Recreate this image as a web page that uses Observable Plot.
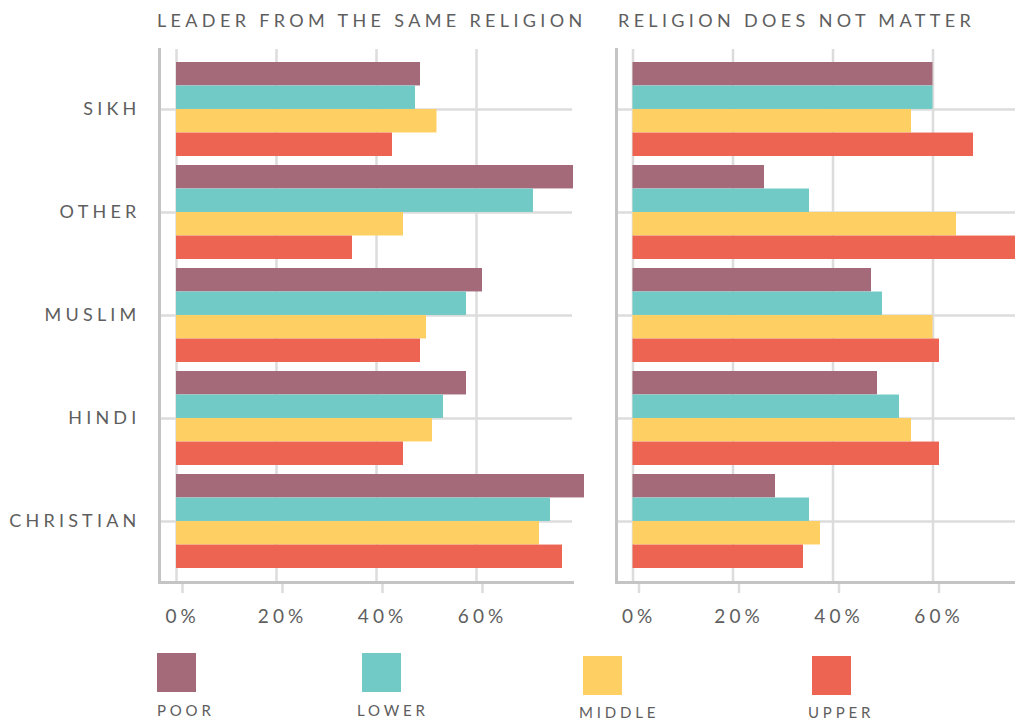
<!DOCTYPE html>
<html>
<head>
<meta charset="utf-8">
<script src="https://cdn.jsdelivr.net/npm/d3@7"></script>
<script src="https://cdn.jsdelivr.net/npm/@observablehq/plot@0.6"></script>
<style>
  html, body { margin: 0; padding: 0; background: #fff; overflow: hidden; }
  #root { position: relative; width: 1015px; height: 722px; font-family: Lato, "Open Sans", sans-serif; color: #5e5e5e; }
  .title { position: absolute; top: 11px; font-size: 18px; line-height: 18px; letter-spacing: 4.35px; white-space: nowrap; }
  .panel { position: absolute; top: 0; }
  .sw { position: absolute; width: 39px; height: 39px; }
  .lab { position: absolute; font-size: 15px; line-height: 15px; letter-spacing: 3.8px; white-space: nowrap; }
  .panel svg g[aria-label="y-axis tick label"] text { letter-spacing: 4.2px; }
  .panel svg g[aria-label="x-axis tick label"] text { letter-spacing: 4px; }
</style>
</head>
<body>
<div id="root">
  <div class="title" style="left:157px">LEADER FROM THE SAME RELIGION</div>
  <div class="title" style="left:618px">RELIGION DOES NOT MATTER</div>
  <div id="left" class="panel" style="left:0px;width:590px"></div>
  <div id="right" class="panel" style="left:590px;width:425px"></div>
  <div id="legend"></div>
</div>
<script>
// ---- data ----
const religions = ["SIKH", "OTHER", "MUSLIM", "HINDI", "CHRISTIAN"];
const classes = ["POOR", "LOWER", "MIDDLE", "UPPER"];
const classColors = ["#a56a7a", "#72cac6", "#fed063", "#ed6552"];
const xTicks = [0, 20, 40, 60];

// "Leader from the same religion" (% by religion, top to bottom)
const samePoor   = [48.8, 79.4, 61.2, 58.0, 81.6];
const sameLower  = [47.8, 71.4, 58.0, 53.4, 74.8];
const sameMiddle = [52.1, 45.4, 50.0, 51.2, 72.6];
const sameUpper  = [43.2, 35.2, 48.8, 45.4, 77.2];

// "Religion does not matter"
const notPoor   = [60.0, 26.3, 47.7, 48.9, 28.5];
const notLower  = [60.0, 35.3, 49.9, 53.3, 35.3];
const notMiddle = [55.7, 64.7, 60.0, 55.7, 37.5];
const notUpper  = [68.1, 77.0, 61.3, 61.3, 34.1];

// ---- layout ----
const H = 630, MT = 49, MB = 48;
const PAD_IN = 0.087, PAD_OUT = 0.13;
const step = (H - MT - MB) / (religions.length - PAD_IN + 2 * PAD_OUT);
const bw = step * (1 - PAD_IN);

function rowsOf(series) {
  return religions.flatMap((r, j) => classes.map((c, i) => ({religion: r, cls: c, value: series[i][j]})));
}

function panel(series, {width, marginLeft, marginRight, domain, showY}) {
  const rows = rowsOf(series);
  const marks = [
    Plot.gridX({ticks: xTicks, stroke: "#dcdcdc", strokeOpacity: 1, strokeWidth: 2.5}),
    Plot.gridY({stroke: "#dcdcdc", strokeOpacity: 1, strokeWidth: 2.5}),
    Plot.axisX({ticks: xTicks, tickFormat: d => d + "%", tickSize: 11, tickPadding: 16, stroke: "#dcdcdc", strokeWidth: 2.5, strokeOpacity: 1, fontSize: 19, dx: 6, label: null, fill: "#5e5e5e"}),
    ...classes.map((c, i) => Plot.barX(rows.filter(d => d.cls === c), {
      x: "value", y: "religion", fill: "cls",
      insetTop: i * bw / 4, insetBottom: (classes.length - 1 - i) * bw / 4
    })),
    Plot.frame({anchor: "left", stroke: "#c4c4c4", strokeWidth: 3}),
    Plot.frame({anchor: "bottom", stroke: "#c4c4c4", strokeWidth: 3})
  ];
  if (showY) marks.push(Plot.axisY({tickSize: 0, tickPadding: 19, fontSize: 18, label: null, fill: "#5e5e5e"}));
  return Plot.plot({
    width, height: H,
    marginTop: MT, marginBottom: MB, marginLeft, marginRight,
    style: {fontFamily: "Lato, 'Open Sans', sans-serif", color: "#5e5e5e", background: "transparent", overflow: "visible", maxWidth: "none"},
    x: {domain, axis: null},
    y: {domain: religions, paddingInner: PAD_IN, paddingOuter: PAD_OUT, axis: null},
    color: {domain: classes, range: classColors},
    marks
  });
}

document.getElementById("left").append(panel([samePoor, sameLower, sameMiddle, sameUpper],
  {width: 590, marginLeft: 159, marginRight: 18, domain: [-3.4, 79.2], showY: true}));
document.getElementById("right").append(panel([notPoor, notLower, notMiddle, notUpper],
  {width: 425, marginLeft: 26, marginRight: 0, domain: [-3.3, 76.5], showY: false}));

// ---- legend ----
const legendPos = [
  {sx: 157, sy: 653, lx: 157, ly: 703},
  {sx: 362, sy: 653, lx: 357, ly: 703},
  {sx: 583, sy: 656, lx: 579, ly: 705},
  {sx: 812, sy: 656, lx: 808, ly: 705}
];
const legend = document.getElementById("legend");
classes.forEach((c, i) => {
  const p = legendPos[i];
  const sw = document.createElement("div");
  sw.className = "sw";
  sw.style.left = p.sx + "px"; sw.style.top = p.sy + "px"; sw.style.background = classColors[i];
  legend.append(sw);
  const lab = document.createElement("div");
  lab.className = "lab";
  lab.style.left = p.lx + "px"; lab.style.top = p.ly + "px";
  lab.textContent = c;
  legend.append(lab);
});
</script>
</body>
</html>
